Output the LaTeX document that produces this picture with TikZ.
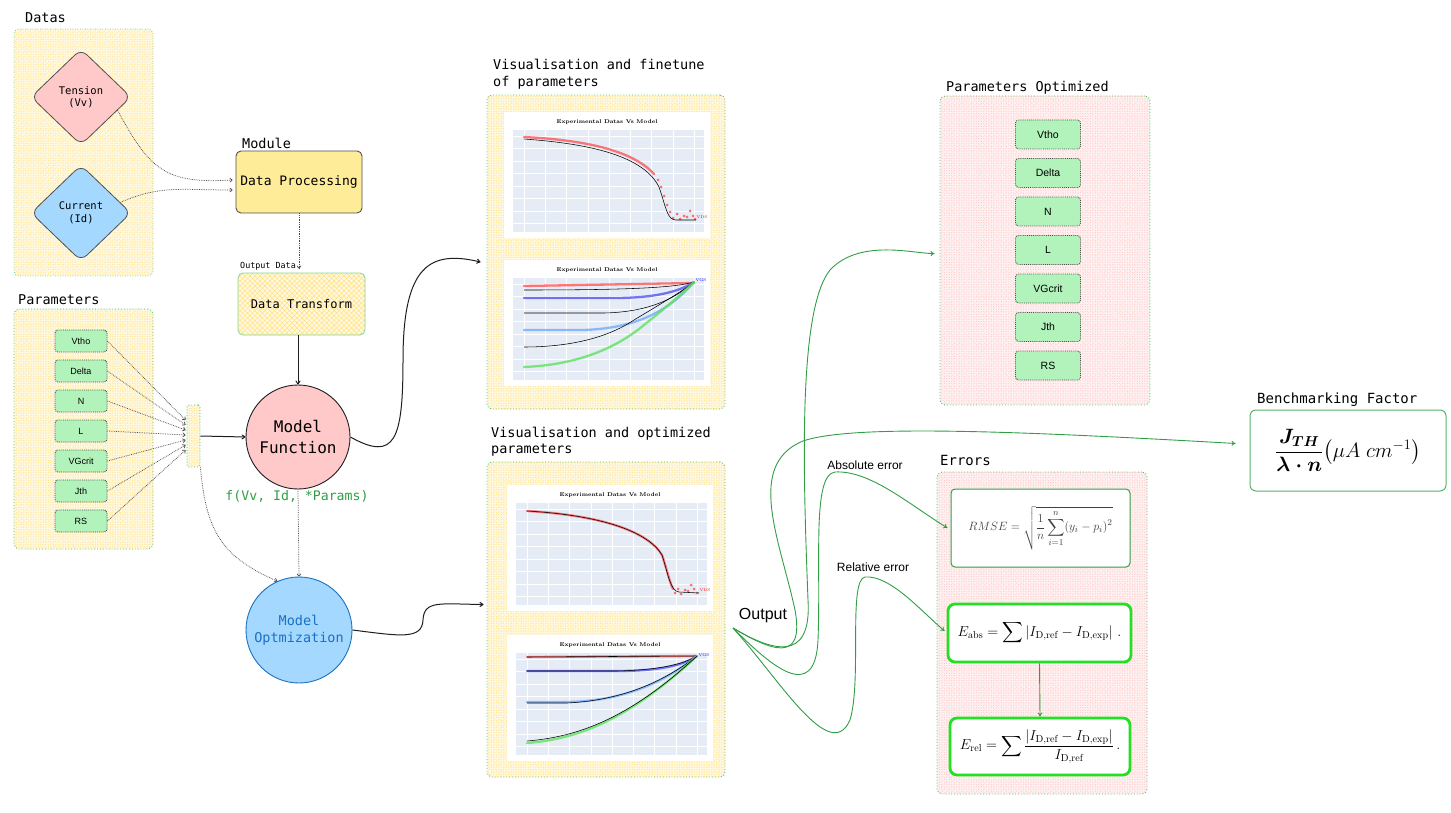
\documentclass[tikz,border=0pt]{standalone}
\usepackage{fontspec}
\setsansfont{Liberation Sans}
\setmonofont{DejaVu Sans Mono}
\usepackage{amsmath}
\usetikzlibrary{positioning, shapes.geometric, arrows.meta, patterns.meta, calc}

\definecolor{grpdot}{HTML}{52C467}
\definecolor{ybg}{HTML}{FFF8E0}
\definecolor{yline}{HTML}{FFE27A}
\definecolor{pbg}{HTML}{FFF1F1}
\definecolor{pline}{HTML}{FFC4C4}
\definecolor{pgreen}{HTML}{B2F2BB}
\definecolor{pgray}{HTML}{505050}
\definecolor{darkline}{HTML}{1E1E1E}
\definecolor{redfill}{HTML}{FFC9C9}
\definecolor{bluefill}{HTML}{A5D8FF}
\definecolor{blueline}{HTML}{1971C2}
\definecolor{procfill}{HTML}{FFEC99}
\definecolor{txtgreen}{HTML}{2F9E44}
\definecolor{lime}{HTML}{22E022}
\definecolor{plotbg}{HTML}{E5ECF6}
\definecolor{bluedot}{HTML}{4A4AF0}
\definecolor{lbluedot}{HTML}{74AAF5}
\definecolor{greendot}{HTML}{5EE25E}

\tikzset{
	yhatch/.style={draw=grpdot, dotted, line width=0.9pt, rounded corners=5pt,
		preaction={fill=ybg},
		preaction={pattern={Lines[angle=45,distance=3.5pt,line width=0.5pt]}, pattern color=yline},
		pattern={Lines[angle=-45,distance=3.5pt,line width=0.5pt]}, pattern color=yline},
	phatch/.style={draw=grpdot, dotted, line width=0.9pt, rounded corners=5pt,
		preaction={fill=pbg},
		preaction={pattern={Lines[angle=45,distance=3.5pt,line width=0.5pt]}, pattern color=pline},
		pattern={Lines[angle=-45,distance=3.5pt,line width=0.5pt]}, pattern color=pline},
	title/.style={font=\ttfamily\fontsize{13.5}{16.5}\selectfont, align=left, anchor=west, inner sep=0pt},
	param/.style={draw=pgray, densely dotted, line width=0.9pt, fill=pgreen, rounded corners=3pt,
		minimum width=52pt, minimum height=22pt, inner sep=0pt, font=\sffamily\fontsize{9}{10}\selectfont},
	paramopt/.style={param, minimum width=65pt, minimum height=29pt, font=\sffamily\fontsize{10.5}{12}\selectfont},
	dotarrow/.style={draw=darkline!80, densely dotted, line width=0.75pt, -{To[length=3pt,width=4.5pt]}},
	solidarrow/.style={draw=darkline, line width=1pt, -{To[length=4pt,width=5pt]}},
	garrow/.style={draw=txtgreen, line width=0.9pt, -{To[length=4pt,width=5pt]}},
	eqbox/.style={draw=lime, line width=2.8pt, fill=white, rounded corners=7pt, inner sep=0pt},
	reddot/.style={draw=red!70!white, line width=2.3pt, opacity=.75, line cap=round},
	bluetrace/.style={draw=bluedot, line width=2.3pt, opacity=.75, line cap=round},
	lbluetrace/.style={draw=lbluedot, line width=2.3pt, opacity=.8, line cap=round},
	greentrace/.style={draw=greendot, line width=2.3pt, opacity=.8, line cap=round},
	model/.style={draw=black, line width=0.55pt},
	plotpanel/.pic={
		\fill[white] (0,0) rectangle (206,126);
		\fill[plotbg] (9,18) rectangle (200,120);
		\foreach \k in {0,...,8} \draw[white, line width=.3pt] (20+21.25*\k,18) -- (20+21.25*\k,120);
		\foreach \k in {0,...,7} \draw[white, line width=.3pt] (9,24+12.5*\k) -- (200,24+12.5*\k);
		\node[font=\bfseries\fontsize{5.5}{6}\selectfont] (-title) at (103,10) {Experimental Datas Vs Model};
	}
}

\begin{document}
\begin{tikzpicture}[x=1pt, y=-1pt]
	\useasboundingbox (0,0) rectangle (1451,813);

	% input datas
	\node[yhatch, minimum width=139pt, minimum height=247pt] (datas) at (83.5,152.5) {};
	\node[title] at (25,18) {Datas};
	\node[diamond, aspect=1, draw=pgray, line width=0.8pt, fill=redfill, rounded corners=8pt,
		minimum width=100pt, minimum height=96pt, align=center,
		font=\ttfamily\fontsize{10.5}{12.5}\selectfont] (tens) at (81,97) {Tension\\(Vv)};
	\node[diamond, aspect=1, draw=pgray, line width=0.8pt, fill=bluefill, rounded corners=8pt,
		minimum width=100pt, minimum height=96pt, align=center,
		font=\ttfamily\fontsize{10.5}{12.5}\selectfont] (curr) at (81,213) {Current\\(Id)};

	% processing
	\node[draw=pgray, line width=0.9pt, fill=procfill, rounded corners=5pt, minimum width=126pt,
		minimum height=62pt, font=\ttfamily\fontsize{13}{15}\selectfont] (proc) at (299,182) {Data Processing};
	\node[title] at (242,143) {Module};
	\draw[dotarrow] (tens.-20) .. controls (150,170) and (165,184) .. ([xshift=-3pt,yshift=2pt]proc.west);
	\draw[dotarrow] (curr.15) .. controls (160,185) and (180,190) .. ([xshift=-3pt,yshift=-8pt]proc.west);

	\node[yhatch, solid, draw=grpdot!70, line width=0.8pt, minimum width=127pt, minimum height=62pt,
		font=\ttfamily\fontsize{12}{14}\selectfont] (trans) at (301.5,304) {Data Transform};
	\draw[dotarrow, shorten >=4pt] (proc.south) -- (proc.south |- trans.north);
	\node[font=\ttfamily\fontsize{8.4}{10}\selectfont, anchor=west, inner sep=0pt] (outdata) at (240,266) {Output Data};

	% parameters
	\node[yhatch, minimum width=139pt, minimum height=240pt] (params) at (83.5,429) {};
	\node[title] at (18,300) {Parameters};
	\node[yhatch, minimum width=13pt, minimum height=62pt, rounded corners=2pt] (col) at (193.5,436) {};
	\foreach \nm [count=\i] in {Vtho,Delta,N,L,VGcrit,Jth,RS} {
		\node[param] (p\i) at (81,311+30*\i) {\nm};
		\draw[dotarrow] (p\i.east) -- ([xshift=-1pt,yshift={(21-5*\i)*1pt}]col.west);
	}

	% model
	\node[circle, draw=darkline, line width=0.9pt, fill=redfill, minimum size=104pt, align=center,
		font=\ttfamily\fontsize{16}{21}\selectfont] (mf) at (298,437) {Model\\Function};
	\draw[solidarrow] (mf.north |- trans.south) -- (mf.north);
	\draw[solidarrow] (col.east) -- (mf.west);
	\node[font=\ttfamily\fontsize{13.2}{15}\selectfont, text=txtgreen] (fsig) at (297,496) {f(Vv, Id, *Params)};
	\node[circle, draw=blueline, line width=0.9pt, fill=bluefill, minimum size=106pt, align=center,
		text=blueline, font=\ttfamily\fontsize{13.5}{17}\selectfont] (mo) at (299,630) {Model\\Optmization};
	\draw[dotarrow] (mf.south) -- (mo.north);
	\draw[dotarrow] (col.south east) .. controls (206,535) and (225,558) .. (mo.114);

	% visualisation
	\node[yhatch, minimum width=238pt, minimum height=314pt] (vizA) at (606,252) {};
	\node[title] at (493,74) {Visualisation and finetune\\of parameters};
	\node[yhatch, minimum width=238pt, minimum height=315pt] (vizB) at (606,619.5) {};
	\node[title] at (491,441.5) {Visualisation and optimized\\parameters};
	\draw[solidarrow] (mf.east) .. controls (395,462) and (403,440) .. (403,360)
		.. controls (403,265) and (430,250) .. ([xshift=-6pt,yshift=-10pt]vizA.west);
	\draw[solidarrow] (mo.east) .. controls (400,636) and (422,640) .. (423,620)
		.. controls (424,600) and (440,604) .. ([xshift=-3pt,yshift=15pt]vizB.west);

	\begin{scope}[shift={(504,112)}]
		\pic (pa) {plotpanel};
		\draw[reddot] (20,25) .. controls (80,28) and (128,38) .. (150,62);
		\foreach \p in {(154,68),(157,75),(160,84),(163,93),(166,100),(169,106),(173,102),(176,107),(180,104),(183,105),(186,99),(189,104),(191,107)}
			\fill[red!70!white, opacity=.8] \p circle (1.5pt);
		\draw[model] (20,27) .. controls (90,32) and (140,45) .. (155,75) .. controls (162,95) and (163,108) .. (172,108) -- (192,108);
		\node[text=red, font=\fontsize{4}{4}\selectfont, inner sep=0pt] at (198,105) {VDS};
	\end{scope}
	\begin{scope}[shift={(504,260)}]
		\pic (pb) {plotpanel};
		\draw[reddot] (20,26) -- (190,23);
		\draw[model] (20,30) .. controls (120,30) and (170,28) .. (190,22);
		\draw[bluetrace] (20,38) -- (110,38) .. controls (150,38) and (175,32) .. (190,22);
		\draw[model] (20,53) -- (100,53) .. controls (150,52) and (175,35) .. (190,22);
		\draw[lbluetrace] (20,70) -- (80,70) .. controls (140,68) and (170,45) .. (190,22);
		\draw[model] (20,87) .. controls (60,87) and (100,80) .. (130,60) .. controls (160,42) and (180,30) .. (190,22);
		\draw[greentrace] (20,107) .. controls (70,105) and (110,90) .. (140,65) .. controls (165,45) and (180,32) .. (190,22);
		\node[text=blue, font=\fontsize{4}{4}\selectfont, inner sep=0pt] at (197,20) {VGS};
	\end{scope}
	\begin{scope}[shift={(507,485)}]
		\pic (pc) {plotpanel};
		\draw[reddot] (20,26) .. controls (90,30) and (140,45) .. (155,70) .. controls (160,85) and (163,98) .. (166,104);
		\foreach \p in {(168,108),(171,104),(174,109),(178,105),(181,106),(184,100),(187,104),(190,108)}
			\fill[red!70!white, opacity=.8] \p circle (1.5pt);
		\draw[model] (20,26) .. controls (90,30) and (140,45) .. (155,70) .. controls (161,88) and (163,106) .. (172,107) -- (192,108);
		\node[text=red, font=\fontsize{4}{4}\selectfont, inner sep=0pt] at (198,105) {VDS};
	\end{scope}
	\begin{scope}[shift={(507,635)}]
		\pic (pd) {plotpanel};
		\draw[reddot] (20,22) -- (190,21);
		\draw[model] (20,22) -- (190,21);
		\draw[bluetrace] (20,36) -- (110,36) .. controls (150,36) and (175,31) .. (190,21);
		\draw[model] (20,36) -- (110,36) .. controls (150,35) and (175,30) .. (190,21);
		\draw[lbluetrace] (20,67) -- (60,67) .. controls (120,66) and (160,45) .. (190,21);
		\draw[model] (20,68) -- (60,68) .. controls (120,65) and (160,44) .. (190,21);
		\draw[greentrace] (20,108) .. controls (70,104) and (120,86) .. (190,21);
		\draw[model] (20,106) .. controls (70,102) and (122,84) .. (190,21);
		\node[text=blue, font=\fontsize{4}{4}\selectfont, inner sep=0pt] at (197,20) {VGS};
	\end{scope}

	% outputs
	\node[phatch, minimum width=210pt, minimum height=309pt] (popt) at (1045,250.5) {};
	\node[title] at (946,88) {Parameters Optimized};
	\foreach \nm [count=\i] in {Vtho,Delta,N,L,VGcrit,Jth,RS}
		\node[paramopt] (o\i) at (1048,96+38.5*\i) {\nm};

	\node[draw=txtgreen!80, line width=1pt, fill=white, rounded corners=6pt, minimum width=196pt,
		minimum height=81pt, inner sep=0pt, font=\fontsize{21}{24}\selectfont] (bench) at (1348,450.5)
		{$\dfrac{\boldsymbol{J_{TH}}}{\boldsymbol{\lambda\cdot n}}\bigl(\mu A\;cm^{-1}\bigr)$};
	\node[title, font=\ttfamily\fontsize{14}{16}\selectfont] at (1257,400) {Benchmarking Factor};

	\node[phatch, minimum width=210pt, minimum height=322pt] (errs) at (1042,633) {};
	\node[title, font=\ttfamily\fontsize{14}{16}\selectfont] at (940,460) {Errors};
	\node[draw=txtgreen, line width=1pt, fill=white, rounded corners=4pt, minimum width=179pt,
		minimum height=78pt, inner sep=0pt, text=black!75, font=\fontsize{13}{15}\selectfont] (rmse) at (1040.5,528)
		{$RMSE=\sqrt{\dfrac{1}{n}\displaystyle\sum_{i=1}^{n}(y_i-p_i)^2}$};
	\node[eqbox, minimum width=183pt, minimum height=58pt, font=\fontsize{14.5}{16}\selectfont] (eabs) at (1039.5,633)
		{$E_{\mathrm{abs}}=\displaystyle\sum\left|I_{\mathrm{D,ref}}-I_{\mathrm{D,exp}}\right|\,.$};
	\node[eqbox, minimum width=180pt, minimum height=57pt, font=\fontsize{14.5}{16}\selectfont] (erel) at (1040,746.5)
		{$E_{\mathrm{rel}}=\displaystyle\sum\frac{\left|I_{\mathrm{D,ref}}-I_{\mathrm{D,exp}}\right|}{I_{\mathrm{D,ref}}}\,.$};
	\draw[garrow] (eabs.south) -- (erel.north);

	\node[font=\sffamily\fontsize{16}{18}\selectfont] (outlbl) at (763,616) {Output};
	\coordinate (out) at (733,628);
	\node[font=\sffamily\fontsize{12}{14}\selectfont] (abslbl) at (865,465) {Absolute error};
	\node[font=\sffamily\fontsize{12}{14}\selectfont] (rellbl) at (873,567) {Relative error};
	\draw[garrow] (out) .. controls (770,650) and (812,665) .. (808,600)
		.. controls (803,470) and (798,310) .. (830,270) .. controls (860,238) and (915,254) .. ([xshift=-5pt,yshift=-3pt]popt.west);
	\draw[garrow] (out) .. controls (770,650) and (805,665) .. (795,610)
		.. controls (780,540) and (745,465) .. (803,441) .. controls (850,425) and (1000,430) .. ([xshift=-14pt,yshift=7pt]bench.west);
	\draw[garrow] (out) .. controls (770,665) and (815,705) .. (818,640)
		.. controls (821,560) and (812,475) .. (835,472) .. controls (870,470) and (910,505) .. ([xshift=-3pt]rmse.west);
	\draw[garrow] (out) .. controls (780,680) and (830,765) .. (850,720)
		.. controls (862,680) and (848,580) .. (865,577) .. controls (890,575) and (920,610) .. ([xshift=-2pt,yshift=2pt]eabs.west);
\end{tikzpicture}
\end{document}
